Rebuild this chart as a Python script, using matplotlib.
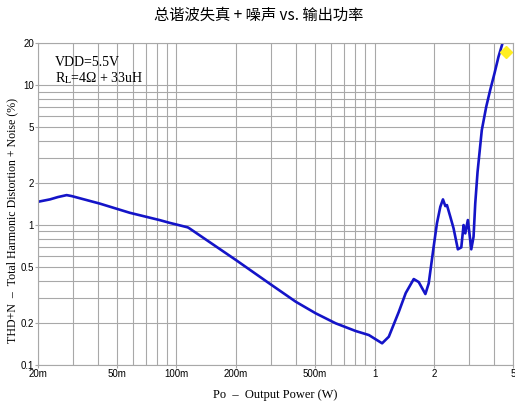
import matplotlib
matplotlib.use("Agg")
import matplotlib.pyplot as plt
from matplotlib.ticker import FixedLocator, NullFormatter, LogLocator

plt.rcParams['mathtext.fontset'] = 'stix'

# THD+N curve (Po in W, THD+N in %)
power_w = [0.0200, 0.0230, 0.0252, 0.0279, 0.0296, 0.0410, 0.0581, 0.0821, 0.0922,
           0.1140, 0.1163, 0.1998, 0.2938, 0.4003, 0.5048, 0.6364, 0.8023, 0.9361,
           1.092, 1.180, 1.325, 1.437, 1.577, 1.671, 1.806, 1.877, 1.988, 2.065,
           2.148, 2.215, 2.277, 2.320, 2.413, 2.506, 2.634, 2.741, 2.815, 2.871,
           2.958, 3.007, 3.078, 3.161, 3.224, 3.311, 3.479, 3.662, 3.835, 4.031,
           4.223, 4.474]
thd_pct = [1.467, 1.526, 1.585, 1.637, 1.611, 1.424, 1.224, 1.086, 1.038,
           0.963, 0.947, 0.562, 0.3834, 0.2832, 0.2340, 0.1986, 0.1750, 0.1637,
           0.1429, 0.1592, 0.2393, 0.3268, 0.4114, 0.3915, 0.3215, 0.3834, 0.700, 1.028,
           1.351, 1.526, 1.367, 1.389, 1.146, 0.947, 0.671, 0.693, 1.0, 0.872,
           1.086, 0.896, 0.671, 0.825, 1.429, 2.391, 4.771, 6.998, 9.21, 12.12,
           15.93, 20.96]

x_ticks = [0.02, 0.05, 0.1, 0.2, 0.5, 1, 2, 5]
x_labels = ['20m', '50m', '100m', '200m', '500m', '1', '2', '5']
y_ticks = [0.1, 0.2, 0.5, 1, 2, 5, 10, 20]
y_labels = ['0.1', '0.2', '0.5', '1', '2', '5', '10', '20']

marker_x = [4.63]
marker_y = [17.2]

title = '总谐波失真 + 噪声 vs. 输出功率'
xlabel = 'Po  –  Output Power (W)'
ylabel = 'THD+N  –  Total Harmonic Distortion + Noise (%)'

fig = plt.figure(figsize=(5.15, 4.03), dpi=100)
ax = fig.add_axes([38/515, 38/403, 475/515, 322/403])
ax.set_xscale('log')
ax.set_yscale('log')
ax.set_xlim(0.02, 5)
ax.set_ylim(0.1, 20)

grid_c = '#a8a8a8'
ax.xaxis.set_major_locator(FixedLocator(x_ticks))
ax.yaxis.set_major_locator(FixedLocator(y_ticks))
ax.xaxis.set_minor_locator(LogLocator(base=10, subs=range(1, 10), numticks=20))
ax.yaxis.set_minor_locator(LogLocator(base=10, subs=range(1, 10), numticks=20))
ax.xaxis.set_minor_formatter(NullFormatter())
ax.yaxis.set_minor_formatter(NullFormatter())

tick_font = dict(family=['Liberation Sans'], size=7)
ax.set_xticklabels(x_labels, fontdict=tick_font)
ax.set_yticklabels(y_labels, fontdict=tick_font)
ax.tick_params(axis='both', which='major', length=2, width=0.8, color=grid_c, pad=1)
ax.tick_params(axis='both', which='minor', length=0)
ax.grid(True, which='both', color=grid_c, linewidth=0.8)
for s in ax.spines.values():
    s.set_color(grid_c)
    s.set_linewidth(0.8)

ax.plot(power_w, thd_pct, color='#1414c8', linewidth=1.9, solid_joinstyle='round')
ax.plot(marker_x, marker_y, marker='D', markersize=6, color='#ffee22',
        linestyle='none', clip_on=False)

ax.text(0.0243, 14.4, 'VDD=5.5V', family='Liberation Serif', fontsize=10, va='center')
ax.text(0.0243, 11.2, r'R$_{\mathrm{L}}$=4Ω + 33uH', family='Liberation Serif',
        fontsize=10, va='center')

fig.text(275/515, 1 - 395/403, xlabel, ha='center', va='center',
         family='Liberation Serif', fontsize=9)
fig.text(12/515, 1 - 220/403, ylabel, ha='center', va='center', rotation=90,
         family='Liberation Serif', fontsize=8.6)
fig.text(259/515, 1 - 15/403, title, ha='center', va='center',
         family=['Noto Sans CJK SC', 'DejaVu Sans'], fontsize=11)

fig.savefig('out.png', dpi=100)
